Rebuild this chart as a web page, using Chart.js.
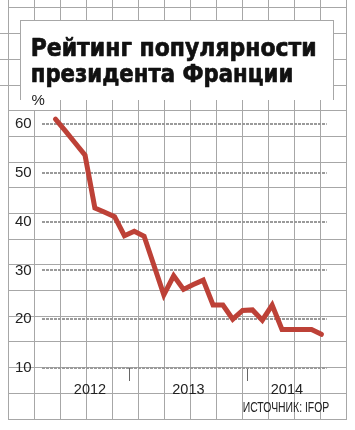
<!DOCTYPE html>
<html><head><meta charset="utf-8">
<script src="https://cdn.jsdelivr.net/npm/chart.js@4.4.1/dist/chart.umd.min.js"></script>
<style>html,body{margin:0;padding:0;background:#fff;overflow:hidden}canvas{display:block}</style>
</head><body>
<canvas id="c" width="355" height="430"></canvas>
<script>
const titleLines = ['Рейтинг популярности', 'президента Франции'];
const unitLabel = '%';
const sourceText = 'ИСТОЧНИК: IFOP';
const months = ['2012-05','2012-06','2012-07','2012-08','2012-09','2012-10','2012-11','2012-12',
  '2013-01','2013-02','2013-03','2013-04','2013-05','2013-06','2013-07','2013-08','2013-09','2013-10','2013-11','2013-12',
  '2014-01','2014-02','2014-03','2014-04','2014-05','2014-06','2014-07','2014-08'];
const ratings = [61,58.6,56.1,53.6,42.8,41.9,41,37.1,38,37,31,25,28.9,26.1,27.1,28,22.9,22.9,20,21.8,21.9,19.8,22.9,17.9,17.9,17.9,17.9,16.9];
const yTicks = [10,20,30,40,50,60];
const yearLabels = ['2012','2013','2014'];

const BASE = 2012;
const monthX = s => { const [y,m] = s.split('-').map(Number); return (y-BASE)*12 + (m-1) + 0.5; };
const points = months.map((m,i)=>({x: monthX(m), y: ratings[i]}));
const boundaries = yearLabels.slice(1).map(y => (Number(y)-BASE)*12);
const labelPos = new Map();
yearLabels.forEach(y => {
  const xs = months.filter(m => m.startsWith(y)).map(monthX);
  labelPos.set((Math.min(...xs)+Math.max(...xs))/2, y);
});

function drawFit(ctx, text, x, y, w, font, stroke){
  ctx.font = font;
  const m = ctx.measureText(text).width;
  ctx.save(); ctx.translate(x,y); ctx.scale(w/m,1);
  ctx.fillText(text,0,0);
  if (stroke){ ctx.lineWidth = stroke; ctx.strokeStyle = ctx.fillStyle; ctx.lineJoin='round'; ctx.strokeText(text,0,0); }
  ctx.restore();
}

const paper = {
  id: 'paper',
  beforeDraw(chart){
    const ctx = chart.ctx;
    ctx.save();
    ctx.fillStyle = '#fff'; ctx.fillRect(0,0,355,430);
    ctx.fillStyle = '#a7a7a7';
    for (let k=0;k<14;k++) ctx.fillRect(8+26*k, 0, 1, 420);
    for (let j=0;j<17;j++){
      const y = Math.floor(7.9+25.7*j);
      const x0 = (j>=1 && j<=3) ? 0 : 8;
      ctx.fillRect(x0, y, 347-x0, 1);
    }
    ctx.fillStyle = '#fff'; ctx.fillRect(20,20,314,80);
    ctx.fillStyle = '#a7a7a7';
    ctx.fillRect(20,20,314,1); ctx.fillRect(20,20,1,80); ctx.fillRect(333,20,1,80);
    ctx.fillStyle = '#fff'; ctx.fillRect(30,99,16,11);
    ctx.fillStyle = '#111';
    ctx.textBaseline = 'alphabetic';
    drawFit(ctx, titleLines[0], 30.7, 55.5, 286, 'bold 24px "DejaVu Sans"', 0.7);
    drawFit(ctx, titleLines[1], 30.7, 81.5, 262.6, 'bold 24px "DejaVu Sans"', 0.7);
    ctx.fillStyle = '#222';
    ctx.font = '15px "Liberation Sans"';
    ctx.fillText(unitLabel, 31.5, 104.5);
    ctx.restore();
  },
  afterDraw(chart){
    const ctx = chart.ctx;
    ctx.save();
    ctx.fillStyle = '#222';
    ctx.textBaseline = 'alphabetic';
    drawFit(ctx, sourceText, 242.7, 411.7, 86.6, '14px "Liberation Sans Narrow", "Liberation Sans"');
    ctx.restore();
  }
};

new Chart(document.getElementById('c'), {
  type: 'line',
  data: { datasets: [{
    data: points,
    borderColor: '#bd4137',
    borderWidth: 5,
    pointRadius: 0,
    tension: 0,
    borderCapStyle: 'round',
    borderJoinStyle: 'miter',
    clip: false
  }]},
  options: {
    responsive: false,
    animation: false,
    devicePixelRatio: 1,
    layout: { padding: { left: 0, right: 28.3, top: 114.2, bottom: 22 } },
    plugins: { legend: {display:false}, tooltip: {enabled:false}, title: {display:false} },
    scales: {
      x: {
        type: 'linear', min: 3.1, max: 32.04,
        afterBuildTicks: s => { s.ticks = [...boundaries, ...labelPos.keys()].sort((a,b)=>a-b).map(v=>({value:v})); },
        afterFit: s => { s.height = 40; },
        border: { display: false },
        grid: {
          drawOnChartArea: false, drawTicks: true, tickLength: 13,
          color: c => (c.tick && boundaries.includes(c.tick.value)) ? '#666' : 'rgba(0,0,0,0)',
          tickColor: c => (c.tick && boundaries.includes(c.tick.value)) ? '#666' : 'rgba(0,0,0,0)',
          lineWidth: 1, tickWidth: 1
        },
        ticks: {
          autoSkip: false, maxRotation: 0, padding: 0,
          color: '#222', font: { family: 'Liberation Sans', size: 14.5 },
          callback: v => labelPos.get(v) || ''
        }
      },
      y: {
        min: 10, max: 62,
        afterBuildTicks: s => { s.ticks = yTicks.map(v=>({value:v})); },
        afterFit: s => { s.width = 41.7; },
        border: { display: false, dash: [3,1] },
        grid: { color: '#9a9a9a', lineWidth: 2, drawTicks: false },
        ticks: { padding: 10, color: '#222', font: { family: 'Liberation Sans', size: 15 } }
      }
    }
  },
  plugins: [paper]
});
</script>
</body></html>
